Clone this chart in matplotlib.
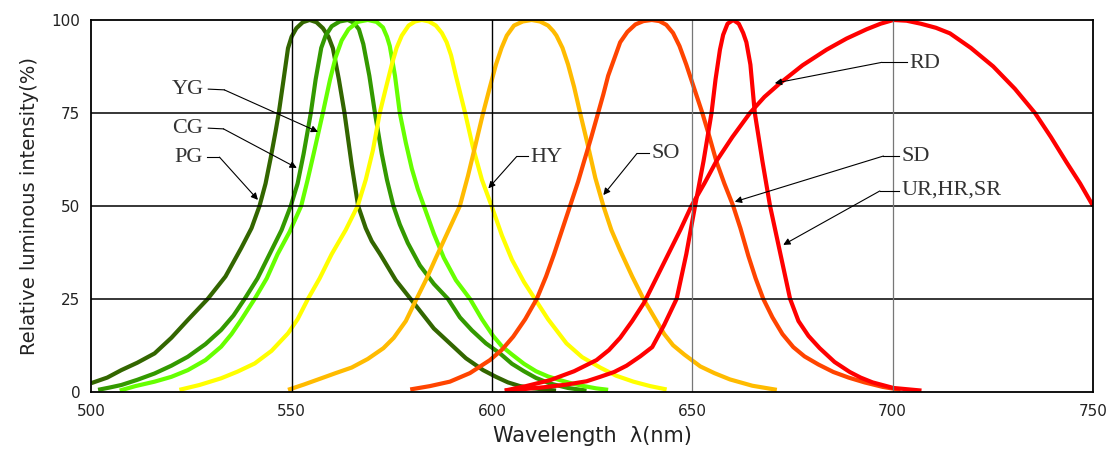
import numpy as np
import matplotlib
matplotlib.use("Agg")
import matplotlib.pyplot as plt

# ---- data (wavelength nm, relative intensity %) ----
pg_wl = [500, 504, 507.5, 511.5, 515.8, 520, 524.1, 529.1, 533.5, 537.4, 540, 542, 543.5, 544.8, 546, 546.8, 548, 549.1, 550, 551.2, 552.8, 554.5, 556.2, 557.8, 559.2, 560.3, 561.8, 563.2, 565, 566.6, 568.5, 570, 572.1, 576, 580.4, 585.5, 589.5, 593.5, 597.8, 601, 604, 607, 610.3, 616]
pg_i = [2.3, 3.8, 5.8, 7.8, 10.3, 14.5, 19.3, 25, 31, 38.6, 44, 50, 56, 63, 70, 75, 84, 92.4, 95.5, 97.8, 99.4, 100, 99.4, 97.8, 95.5, 92.4, 84, 75, 61, 50, 44, 40.5, 37, 30, 24, 17, 13, 9, 5.8, 4, 2.5, 1.5, 0.9, 0.3]

cg_wl = [501.7, 504.5, 507.5, 511.5, 515.8, 520, 524.1, 528.5, 532.4, 535.5, 538.3, 541.5, 544.5, 547.5, 549.8, 551.5, 553, 554.8, 556, 557.4, 558.5, 560, 562, 564, 565.5, 566.8, 567.9, 569.4, 570.8, 572.5, 573.8, 575.4, 577, 579, 582, 585.5, 589, 592, 595, 598.5, 602, 605, 608, 611, 614.5, 619, 623.6]
cg_i = [0.5, 1.1, 1.8, 3.2, 4.9, 7, 9.4, 12.8, 16.6, 20.5, 25, 30.5, 37, 43.5, 50, 56, 64, 75, 84, 92.5, 95.8, 98.3, 99.6, 100, 99.3, 97.5, 93.5, 85, 75, 64, 57, 50, 45, 40, 34, 29, 25, 20, 16.5, 13, 10.3, 7.5, 5.5, 3.7, 2.2, 1, 0.3]

yg_wl = [507.1, 511, 515.8, 520, 524.1, 528.5, 532.4, 535, 537.4, 540.8, 543.8, 546.5, 549.5, 552.4, 554, 555.5, 557.8, 559.6, 561, 562.5, 564.2, 566.5, 569, 571.2, 572.8, 573.8, 574.5, 575.8, 577, 578.5, 580, 581.5, 583, 585.5, 588, 591, 594.5, 597.5, 600.3, 602.5, 605, 608, 611, 614, 617, 620, 623, 626, 629]
yg_i = [0.3, 1.5, 2.7, 4, 5.8, 8.5, 12.1, 15.5, 19.3, 25, 30.5, 37, 43, 50, 57, 64, 75, 84, 90, 94.5, 97.5, 99.5, 100, 99.5, 98, 95.5, 93, 85, 75, 67, 60, 54.5, 50, 42.5, 36, 30, 25, 19.5, 15, 12.2, 10, 7.5, 5.5, 4.1, 3.1, 2.2, 1.5, 0.9, 0.5]

hy_wl = [522, 527, 532.4, 536.5, 540.8, 545, 549.1, 551.5, 554.1, 557, 560, 563.5, 566.5, 568.5, 570.3, 572, 573.6, 575, 576.2, 577.5, 579.2, 580.8, 582.5, 584.3, 586, 587.5, 588.7, 589.8, 591, 593.3, 595.2, 597.5, 599.9, 602.5, 605, 608, 610.7, 614, 618.6, 622.5, 627, 631, 635.3, 639.5, 643.6]
hy_i = [0.5, 1.8, 3.6, 5.4, 7.6, 11, 15.7, 19.5, 25, 30.5, 37, 43.5, 50, 57, 65, 75, 82, 88, 92.5, 95.8, 98.5, 99.6, 100, 99.6, 98.5, 96.5, 94, 90.5, 85, 75, 66, 57, 50, 42, 35.5, 29.5, 25, 19.5, 13, 9.3, 6.5, 4.3, 2.7, 1.5, 0.6]

so_wl = [549.1, 553, 557.4, 561, 565, 569, 572.9, 575.5, 578.5, 581.2, 583.5, 586, 589, 592, 594, 595.8, 597.8, 599.5, 601, 602.4, 603.7, 605.5, 607.7, 609.9, 612, 614, 615.3, 616.1, 617.6, 619, 620.5, 622, 624, 625.8, 627.8, 629.8, 632, 635, 637.8, 640.8, 643, 645.2, 648, 652, 655.5, 659.4, 665, 671.1]
so_i = [0.5, 1.9, 3.6, 5, 6.5, 8.8, 11.7, 14.5, 19, 25, 30, 36, 43, 50, 58, 66, 75, 82, 88, 92.5, 95.8, 98.5, 99.6, 100, 99.6, 98.5, 97, 95.8, 92.5, 88, 82, 75, 66, 57.5, 50, 43.5, 38, 31, 25, 19.5, 15.5, 12.5, 10, 6.8, 5, 3.3, 1.6, 0.5]

sd_wl = [579.6, 584.5, 589.5, 594.5, 599.5, 602.5, 605.3, 608.3, 611.2, 613.5, 615.5, 617.5, 619.5, 621.5, 623, 624.8, 626.5, 627.8, 629, 630.5, 632, 633.8, 635.8, 637.8, 639.9, 641.8, 643.5, 645.2, 646.8, 648.5, 650.5, 652.5, 654.3, 656, 658, 660.2, 662, 664, 665.8, 667.7, 670, 672.5, 675.2, 678, 681.5, 685.2, 689, 693, 697.5, 702]
sd_i = [0.6, 1.5, 2.7, 5, 8.5, 11.3, 14.8, 19.5, 25, 31, 37, 43.5, 50, 56.5, 62, 68.5, 75, 80, 85, 89.5, 94, 96.8, 98.8, 99.7, 100, 99.7, 98.7, 96.5, 93, 88, 81.5, 75, 68.5, 62, 56, 50, 44, 36.5, 30.5, 25, 20, 15.5, 12, 9.5, 7.3, 5.3, 3.8, 2.5, 1.3, 0.5]

rd_wl = [603.2, 608.5, 614.5, 620.5, 626.1, 629.2, 632, 635, 638, 641, 644, 647, 649.8, 653, 656, 660, 664.4, 668, 671.9, 677.5, 683.5, 688.5, 693.5, 697, 700.2, 703.5, 707, 710.8, 714.3, 719.5, 725.1, 730.5, 735.5, 739.5, 743.4, 746.8, 750]
rd_i = [0.3, 1.5, 3.1, 5.5, 8.5, 11.2, 14.5, 19, 24, 30.5, 37, 43.5, 50, 56, 62, 68.5, 75, 79.3, 83, 87.8, 92, 95, 97.5, 99, 100, 99.8, 99, 97.9, 96.4, 92.5, 87.5, 81.5, 75, 68.5, 61.7, 56, 50]

ur_wl = [603.2, 608, 613, 618.5, 623.6, 627, 630.5, 633.6, 637, 640, 643, 646.1, 648.5, 650.7, 652.8, 654.8, 655.8, 656.9, 657.7, 658.8, 660.2, 661.6, 662.7, 663.5, 664.5, 665.6, 667.5, 669.4, 672, 674.4, 676.5, 679, 681.8, 685.5, 689.3, 692, 695, 700.2, 707.2]
ur_i = [0.3, 0.7, 1.2, 1.9, 2.8, 4, 5.3, 7, 9.5, 12, 18, 25, 37, 50, 62, 75, 84, 92, 96, 99, 100, 99, 96.5, 94, 88, 75, 62, 50, 37, 25, 19, 15, 11.7, 8, 5.3, 3.8, 2.5, 1, 0.3]

x_ticks = [500, 550, 600, 650, 700, 750]
y_ticks = [0, 25, 50, 75, 100]

series = [
    ("PG", pg_wl, pg_i, "#336600"),
    ("CG", cg_wl, cg_i, "#339900"),
    ("YG", yg_wl, yg_i, "#66ff00"),
    ("HY", hy_wl, hy_i, "#ffff00"),
    ("SO", so_wl, so_i, "#ffbb00"),
    ("SD", sd_wl, sd_i, "#ff4400"),
    ("RD", rd_wl, rd_i, "#ff0000"),
    ("UR,HR,SR", ur_wl, ur_i, "#ff0000"),
]

# label text position, alignment, leader start, elbow, arrow tip
labels = [
    ("YG", (528.0, 81.4), "right", (529.2, 81.4), (533.2, 81.2), (556.6, 69.9)),
    ("CG", (528.0, 70.9), "right", (529.2, 70.9), (533.0, 70.7), (551.3, 60.2)),
    ("PG", (527.9, 63.1), "right", (529.0, 63.1), (532.0, 63.1), (541.6, 51.6)),
    ("HY", (609.5, 63.1), "left", (609.0, 63.3), (606.2, 63.3), (599.1, 54.7)),
    ("SO", (639.9, 64.1), "left", (639.3, 64.1), (636.2, 64.1), (627.8, 52.9)),
    ("RD", (704.3, 88.3), "left", (703.7, 88.6), (697.3, 88.6), (670.6, 83.0)),
    ("SD", (702.2, 63.4), "left", (701.6, 63.4), (697.7, 63.4), (660.6, 51.1)),
    ("UR,HR,SR", (702.2, 54.3), "left", (701.6, 54.0), (696.8, 54.0), (672.7, 39.5)),
]

fig = plt.figure(figsize=(11.17, 4.51), dpi=100)
ax = fig.add_axes([0.0817, 0.1315, 0.8968, 0.8242])

for name, wl, inten, col in series:
    ax.plot(wl, inten, color=col, lw=3.0, solid_joinstyle="round",
            solid_capstyle="butt", zorder=2)

# grid
for yv in [25, 50, 75]:
    ax.axhline(yv, color="black", lw=1.1, zorder=3)
for xv, c, w in [(550, "black", 1.0), (600, "black", 1.0), (650, "#777777", 0.9), (700, "#777777", 0.9)]:
    ax.axvline(xv, color=c, lw=w, zorder=3)

ax.set_xlim(500, 750)
ax.set_ylim(0, 100)
ax.set_xticks(x_ticks)
ax.set_yticks(y_ticks)
ax.set_xticklabels([str(v) for v in x_ticks], fontsize=11, color="#222222")
ax.set_yticklabels([str(v) for v in y_ticks], fontsize=11, color="#222222")
ax.tick_params(axis="x", length=0, pad=9)
ax.tick_params(axis="y", length=0, pad=8)
for s in ax.spines.values():
    s.set_linewidth(1.3)
    s.set_color("black")
    s.set_zorder(4)

ax.set_xlabel("Wavelength  λ(nm)", fontsize=15, color="#222222", labelpad=5)
ax.set_ylabel("Relative luminous intensity(%)", fontsize=14, color="#222222", labelpad=9)

for txt, tpos, ha, lstart, elbow, tip in labels:
    ax.text(tpos[0], tpos[1], txt, ha=ha, va="center", fontsize=16,
            family="Liberation Serif", color="#333333", zorder=6)
    ax.plot([lstart[0], elbow[0]], [lstart[1], elbow[1]], color="black", lw=0.8, zorder=5)
    ax.annotate("", xy=tip, xytext=elbow,
                arrowprops=dict(arrowstyle="-|>", color="black", lw=0.8,
                                mutation_scale=10, shrinkA=0, shrinkB=0),
                zorder=5)

fig.savefig("out.png", dpi=100)
